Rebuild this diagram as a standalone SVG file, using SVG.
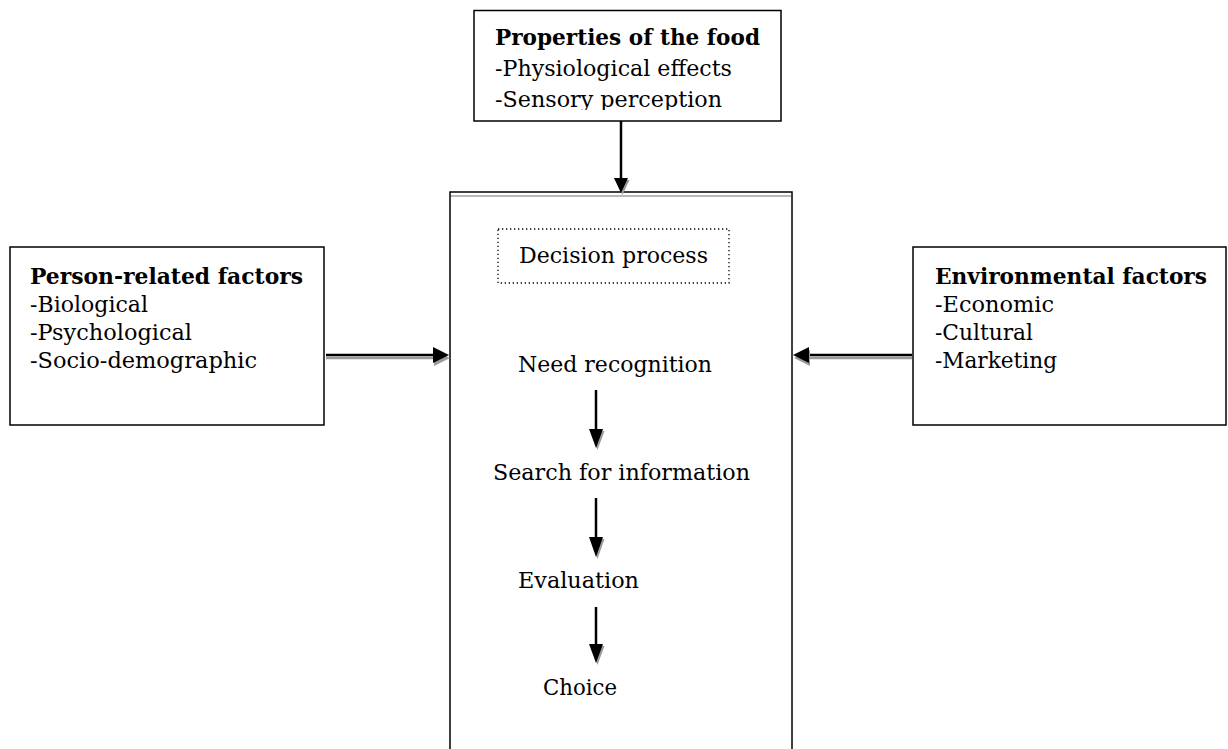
<svg xmlns="http://www.w3.org/2000/svg" width="1228" height="749" viewBox="0 0 1228 749">
  <style>
    .box { fill: #fff; stroke: #000; stroke-width: 1.5; }
    .txt { font-family: "DejaVu Serif", "Liberation Serif", serif; font-size: 22px; fill: #000; }
    .bold { font-weight: bold; }
    .shaft { stroke: #000; stroke-width: 2.5; fill: none; }
    .shade { stroke: #9a9a9a; stroke-width: 2.5; fill: none; }
    .head { fill: #000; }
    .headshade { fill: #9a9a9a; }
  </style>
  <defs>
    <clipPath id="topClip">
      <rect x="474" y="10" width="307" height="100"/>
    </clipPath>
  </defs>
  <rect x="0" y="0" width="1228" height="749" fill="#fff"/>

  <!-- Central decision process frame -->
  <g id="decision-frame">
    <rect class="box" x="450" y="192" width="342" height="600"/>
    <line x1="451" y1="196" x2="791" y2="196" stroke="#a0a0a0" stroke-width="1.5"/>
    <rect x="498" y="229" width="231" height="54" fill="none" stroke="#000" stroke-width="1.3" stroke-dasharray="1.3 2.7"/>
    <text class="txt" x="519" y="263" textLength="189" lengthAdjust="spacingAndGlyphs">Decision process</text>
  </g>

  <g id="step-need"><text class="txt" x="518" y="372" textLength="194" lengthAdjust="spacingAndGlyphs">Need recognition</text></g>
  <g id="step-search"><text class="txt" x="493" y="480" textLength="257" lengthAdjust="spacingAndGlyphs">Search for information</text></g>
  <g id="step-evaluation"><text class="txt" x="518" y="588" textLength="121" lengthAdjust="spacingAndGlyphs">Evaluation</text></g>
  <g id="step-choice"><text class="txt" x="543" y="695" textLength="74" lengthAdjust="spacingAndGlyphs">Choice</text></g>

  <!-- Food properties -->
  <g id="food-properties">
    <rect class="box" x="474" y="10.5" width="307" height="110.5"/>
    <g clip-path="url(#topClip)">
      <text class="txt bold" x="495" y="45" textLength="265" lengthAdjust="spacingAndGlyphs">Properties of the food</text>
      <text class="txt" x="495" y="76" textLength="237" lengthAdjust="spacingAndGlyphs">-Physiological effects</text>
      <text class="txt" x="495" y="107" textLength="227" lengthAdjust="spacingAndGlyphs">-Sensory perception</text>
    </g>
  </g>

  <!-- Person-related factors -->
  <g id="person-factors">
    <rect class="box" x="10" y="247" width="314" height="178"/>
    <text class="txt bold" x="30" y="284" textLength="273" lengthAdjust="spacingAndGlyphs">Person-related factors</text>
    <text class="txt" x="30" y="312" textLength="118" lengthAdjust="spacingAndGlyphs">-Biological</text>
    <text class="txt" x="30" y="340" textLength="162" lengthAdjust="spacingAndGlyphs">-Psychological</text>
    <text class="txt" x="30" y="368" textLength="227" lengthAdjust="spacingAndGlyphs">-Socio-demographic</text>
  </g>

  <!-- Environmental factors -->
  <g id="environmental-factors">
    <rect class="box" x="913" y="247" width="313" height="178"/>
    <text class="txt bold" x="935" y="284" textLength="272" lengthAdjust="spacingAndGlyphs">Environmental factors</text>
    <text class="txt" x="935" y="312" textLength="119" lengthAdjust="spacingAndGlyphs">-Economic</text>
    <text class="txt" x="935" y="340" textLength="98" lengthAdjust="spacingAndGlyphs">-Cultural</text>
    <text class="txt" x="935" y="368" textLength="122" lengthAdjust="spacingAndGlyphs">-Marketing</text>
  </g>

  <!-- Connectors -->
  <g id="connectors">
    <!-- food properties to decision frame -->
    <line class="shaft" x1="621" y1="121" x2="621" y2="180"/>
    <polygon class="headshade" points="615.5,180 629.5,180 622.5,195"/>
    <polygon class="head" points="614,178 628,178 621,193"/>

    <!-- person-related factors to decision frame -->
    <line class="shade" x1="326" y1="358" x2="438" y2="358"/>
    <line class="shaft" x1="326" y1="355" x2="436" y2="355"/>
    <polygon class="headshade" points="434,350 450,358 434,366"/>
    <polygon class="head" points="433,347 449,355 433,363"/>

    <!-- environmental factors to decision frame -->
    <line class="shade" x1="912" y1="358" x2="806" y2="358"/>
    <line class="shaft" x1="912" y1="355" x2="806" y2="355"/>
    <polygon class="headshade" points="810,350 794,358 810,366"/>
    <polygon class="head" points="809,347 793,355 809,363"/>

    <!-- steps of the decision process -->
    <line class="shaft" x1="596" y1="390" x2="596" y2="432"/>
    <polygon class="headshade" points="590.5,431 604.5,431 597.5,450"/>
    <polygon class="head" points="589,429 603,429 596,448"/>

    <line class="shaft" x1="596" y1="498" x2="596" y2="540"/>
    <polygon class="headshade" points="590.5,539 604.5,539 597.5,559"/>
    <polygon class="head" points="589,537 603,537 596,557"/>

    <line class="shaft" x1="596" y1="607" x2="596" y2="647"/>
    <polygon class="headshade" points="590.5,646 604.5,646 597.5,665"/>
    <polygon class="head" points="589,644 603,644 596,663"/>
  </g>
</svg>
